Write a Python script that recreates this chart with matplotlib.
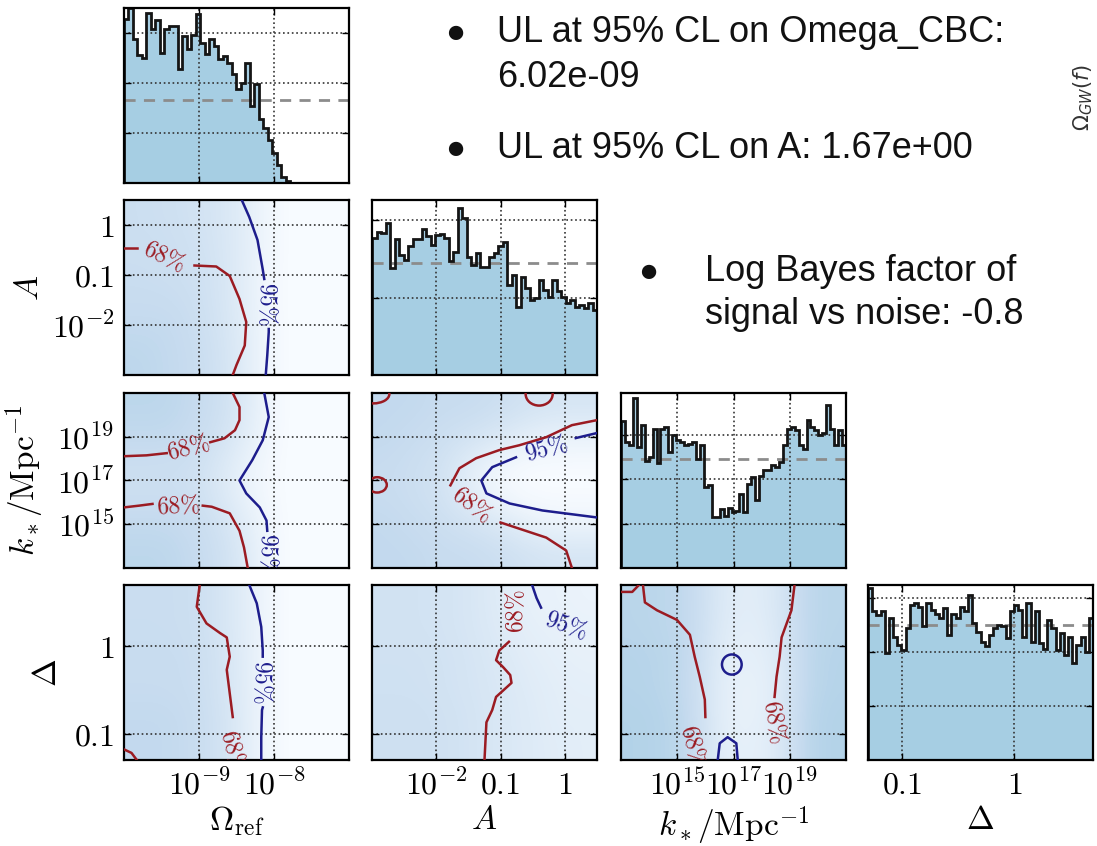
import numpy as np
import matplotlib
matplotlib.use('Agg')
import matplotlib.pyplot as plt
from matplotlib.patches import Ellipse

plt.rcParams['mathtext.fontset'] = 'cm'
plt.rcParams['font.family'] = ['DejaVu Serif']

# ---------------- data (log10 units) ----------------
param_names = ['omega', 'A', 'k', 'delta']
axis_labels = [r'$\Omega_{\mathrm{ref}}$', r'$A$', r'$k_*/\mathrm{Mpc}^{-1}$', r'$\Delta$']
ranges = {'omega': (-10.0, -7.0), 'A': (-3.0, 0.5), 'k': (13.0, 21.0),
          'delta': (np.log10(0.05), np.log10(5.0))}
tick_pos = {'omega': [-9, -8], 'A': [-2, -1, 0], 'k': [15, 17, 19], 'delta': [-1, 0]}
tick_lab = {'omega': [r'$10^{-9}$', r'$10^{-8}$'],
            'A': [r'$10^{-2}$', r'$0.1$', r'$1$'],
            'k': [r'$10^{15}$', r'$10^{17}$', r'$10^{19}$'],
            'delta': [r'$0.1$', r'$1$']}

# 1D marginal histograms (relative heights)
hist_omega = [3.27, 3.5, 2.87, 2.55, 2.5, 3.4, 3.07, 3.25, 2.6, 3.07, 3.13, 3.13, 2.27, 2.93,
              2.67, 2.95, 3.37, 2.8, 2.57, 2.87, 2.73, 2.47, 2.53, 2.4, 2.17, 1.87, 2.0, 2.4,
              1.53, 1.97, 1.27, 1.1, 0.85, 0.6, 0.35, 0.12, 0.04,
              0, 0, 0, 0, 0, 0, 0, 0, 0, 0, 0, 0, 0]
hist_A = [1.77, 1.85, 1.83, 1.96, 1.38, 1.75, 1.55, 1.49, 1.66, 1.75, 1.75, 1.88, 1.79, 1.68,
          1.81, 1.82, 1.77, 1.47, 1.59, 2.16, 2.03, 1.53, 1.42, 1.57, 1.40, 1.40, 1.53, 1.57,
          1.66, 1.72, 1.16, 1.29, 0.88, 1.27, 1.12, 0.97, 0.99, 1.23, 1.10, 1.01, 1.23, 1.08,
          1.01, 0.93, 0.97, 0.88, 0.90, 0.86, 0.93, 0.84]
hist_k = [3.30, 2.84, 2.77, 3.83, 2.73, 3.22, 2.42, 2.50, 3.14, 2.36, 3.14, 3.18, 2.61, 2.99,
          2.88, 2.84, 2.77, 2.80, 2.84, 2.46, 2.77, 1.82, 1.86, 1.14, 1.14, 1.33, 1.17, 1.36,
          1.25, 1.29, 1.67, 1.25, 1.89, 2.05, 1.52, 2.08, 2.20, 2.20, 2.31, 2.27, 2.39, 2.77,
          3.14, 3.18, 3.11, 2.77, 2.69, 3.33, 3.18, 3.11, 2.99, 3.03, 3.67, 3.14, 2.77, 3.11, 2.77]
hist_delta = [3.19, 2.76, 2.69, 2.76, 1.98, 2.63, 2.29, 2.14, 2.04, 2.45,
              2.88, 2.91, 2.85, 2.48, 2.91, 2.79, 2.72, 2.63, 2.82, 2.32,
              2.72, 2.63, 2.85, 2.76, 3.07, 2.54, 2.38, 2.20, 2.11, 2.32,
              2.45, 2.51, 2.48, 2.26, 2.76, 2.88, 2.79, 2.29, 2.91, 2.20,
              2.76, 2.17, 2.07, 2.60, 2.45, 2.04, 2.35, 1.95, 2.29, 1.80,
              2.14, 2.29, 2.01, 2.63]
hists = {'omega': hist_omega, 'A': hist_A, 'k': hist_k, 'delta': hist_delta}
hist_top = {'omega': 3.5, 'A': 2.26, 'k': 3.94, 'delta': 3.25}
hist_ref_level = {'omega': 1.66, 'A': 1.44, 'k': 2.45, 'delta': 2.51}
hist_yticks = {'omega': [1, 2, 3], 'A': [1, 2], 'k': [1, 2, 3], 'delta': [1, 2, 3]}

# coarse 2D posterior density (rows bottom->top, cols left->right)
dens_A_omega = [[0.28, 0.26, 0.24, 0.19, 0.09, 0.0, 0, 0],
                [0.26, 0.26, 0.23, 0.18, 0.09, 0.0, 0, 0],
                [0.24, 0.24, 0.22, 0.17, 0.08, 0.0, 0, 0],
                [0.23, 0.22, 0.21, 0.17, 0.08, 0.0, 0, 0],
                [0.22, 0.22, 0.20, 0.16, 0.09, 0.0, 0, 0],
                [0.22, 0.21, 0.19, 0.16, 0.09, 0.0, 0, 0]]
dens_k_omega = [[0.28, 0.28, 0.25, 0.21, 0.11, 0.0, 0, 0],
                [0.26, 0.26, 0.24, 0.19, 0.09, 0.0, 0, 0],
                [0.22, 0.22, 0.21, 0.14, 0.05, 0.0, 0, 0],
                [0.22, 0.22, 0.21, 0.14, 0.05, 0.0, 0, 0],
                [0.26, 0.26, 0.24, 0.19, 0.09, 0.0, 0, 0],
                [0.28, 0.28, 0.25, 0.21, 0.11, 0.0, 0, 0]]
dens_delta_omega = [[0.26, 0.26, 0.24, 0.19, 0.09, 0.0, 0, 0],
                    [0.26, 0.26, 0.24, 0.19, 0.09, 0.0, 0, 0],
                    [0.24, 0.24, 0.23, 0.18, 0.09, 0.0, 0, 0],
                    [0.24, 0.24, 0.23, 0.18, 0.09, 0.0, 0, 0],
                    [0.23, 0.23, 0.22, 0.17, 0.09, 0.0, 0, 0],
                    [0.23, 0.23, 0.22, 0.17, 0.09, 0.0, 0, 0]]
dens_k_A = [[0.26, 0.26, 0.24, 0.24, 0.22, 0.19, 0.17, 0.17],
            [0.26, 0.24, 0.22, 0.19, 0.15, 0.09, 0.05, 0.05],
            [0.24, 0.22, 0.19, 0.10, 0.03, 0.0, 0.0, 0.0],
            [0.24, 0.22, 0.19, 0.10, 0.03, 0.0, 0.0, 0.0],
            [0.26, 0.24, 0.22, 0.19, 0.15, 0.10, 0.07, 0.07],
            [0.26, 0.26, 0.24, 0.24, 0.22, 0.19, 0.17, 0.17]]
dens_delta_A = [[0.21, 0.21, 0.20, 0.18, 0.15, 0.13, 0.11, 0.10],
                [0.21, 0.21, 0.20, 0.18, 0.15, 0.13, 0.10, 0.10],
                [0.20, 0.20, 0.19, 0.17, 0.15, 0.12, 0.10, 0.09],
                [0.20, 0.20, 0.19, 0.17, 0.14, 0.11, 0.09, 0.08],
                [0.19, 0.19, 0.18, 0.16, 0.13, 0.09, 0.08, 0.07],
                [0.19, 0.19, 0.18, 0.16, 0.12, 0.08, 0.07, 0.06]]
dens_delta_k = [[0.31, 0.30, 0.26, 0.11, 0.08, 0.12, 0.28, 0.31],
                [0.31, 0.30, 0.26, 0.10, 0.07, 0.11, 0.28, 0.31],
                [0.30, 0.29, 0.25, 0.10, 0.07, 0.10, 0.27, 0.30],
                [0.30, 0.29, 0.26, 0.11, 0.08, 0.11, 0.27, 0.30],
                [0.29, 0.28, 0.26, 0.13, 0.09, 0.13, 0.27, 0.29],
                [0.29, 0.28, 0.26, 0.14, 0.10, 0.14, 0.27, 0.29]]
densities = {(1, 0): dens_A_omega, (2, 0): dens_k_omega, (3, 0): dens_delta_omega,
             (2, 1): dens_k_A, (3, 1): dens_delta_A, (3, 2): dens_delta_k}

# credible contours (x, y) in log10 units, split where labels sit
c68_A_omega = [[(-10.0, -0.47), (-9.83, -0.47)],
               [(-9.06, -0.81), (-8.77, -0.83), (-8.59, -1.02), (-8.46, -1.48), (-8.37, -1.94),
                (-8.39, -2.41), (-8.50, -2.80), (-8.55, -3.0)]]
c95_A_omega = [[(-8.43, 0.5), (-8.33, 0.16), (-8.22, -0.30), (-8.15, -0.89), (-8.13, -1.08)],
               [(-8.07, -2.08), (-8.07, -2.14), (-8.09, -2.61), (-8.11, -3.0)]]
c68_k_omega = [[(-10.0, 18.11), (-9.7, 18.15), (-9.43, 18.25)],
               [(-8.85, 18.75), (-8.66, 18.93), (-8.52, 19.30), (-8.46, 19.76), (-8.46, 20.36),
                (-8.55, 21.0)],
               [(-10.0, 15.77), (-9.8, 15.85), (-9.62, 15.93)],
               [(-8.95, 15.85), (-8.83, 15.80), (-8.59, 15.50), (-8.46, 14.70), (-8.40, 13.94),
                (-8.35, 13.0)]]
c95_k_omega = [[(-8.13, 21.0), (-8.07, 19.9), (-8.15, 18.84), (-8.29, 17.93), (-8.46, 17.0),
                (-8.37, 16.41), (-8.19, 15.77), (-8.10, 15.17), (-8.09, 14.70)]]
c68_delta_omega = [[(-8.99, 0.70), (-9.03, 0.45), (-8.90, 0.26), (-8.72, 0.15), (-8.63, 0.10),
                    (-8.59, -0.12), (-8.63, -0.27), (-8.59, -0.54), (-8.55, -0.81)],
                   [(-10.0, -1.18), (-9.9, -1.22), (-9.83, -1.30)]]
c95_delta_omega = [[(-8.33, 0.70), (-8.23, 0.49), (-8.17, 0.22), (-8.15, -0.05), (-8.15, -0.12)],
                   [(-8.15, -0.70), (-8.16, -0.73), (-8.17, -1.04), (-8.17, -1.30)]]
c68_k_A = [[(0.5, 19.76), (0.11, 19.53), (-0.29, 18.98), (-0.71, 18.61), (-1.02, 18.39),
            (-1.38, 18.02), (-1.64, 17.56), (-1.78, 16.78)],
           [(-1.0, 15.08), (-0.29, 14.39), (0.02, 13.80), (0.11, 13.0)]]
c95_k_A = [[(0.5, 19.17), (0.17, 18.94)],
           [(-0.76, 18.06), (-1.13, 17.61), (-1.30, 17.0), (-1.22, 16.41), (-0.86, 15.95),
            (-0.35, 15.63), (0.5, 15.31)]]
loops68_k_A = [((-2.98, 20.95), 0.5, 0.85), ((-2.92, 16.8), 0.3, 0.7), ((-0.4, 20.95), 0.42, 1.05)]
c68_delta_A = [[(-1.25, -1.30), (-1.22, -0.87), (-1.13, -0.73), (-1.07, -0.58), (-0.95, -0.50),
                (-0.83, -0.42), (-0.85, -0.33), (-0.96, -0.24), (-1.07, -0.16), (-1.02, -0.05),
                (-0.87, 0.05)]]
c95_delta_A = [[(-0.51, 0.70), (-0.44, 0.55), (-0.37, 0.44)]]
c68_delta_k = [[(13.0, 0.62), (13.4, 0.62), (13.64, 0.70)],
               [(13.78, 0.70), (13.85, 0.50), (14.28, 0.41), (14.99, 0.30), (15.45, 0.13),
                (15.62, -0.12), (15.80, -0.35), (15.98, -0.61), (16.0, -0.81)],
               [(19.17, 0.70), (19.06, 0.41), (18.71, 0.10), (18.64, -0.12), (18.53, -0.35),
                (18.46, -0.58)]]
c95_delta_k = [[(16.44, -1.30), (16.51, -1.11), (16.79, -1.04), (17.10, -1.11), (17.15, -1.30)]]
loops95_delta_k = [((16.94, -0.21), 0.7, 0.23)]

contours68 = {(1, 0): c68_A_omega, (2, 0): c68_k_omega, (3, 0): c68_delta_omega,
              (2, 1): c68_k_A, (3, 1): c68_delta_A, (3, 2): c68_delta_k}
contours95 = {(1, 0): c95_A_omega, (2, 0): c95_k_omega, (3, 0): c95_delta_omega,
              (2, 1): c95_k_A, (3, 1): c95_delta_A, (3, 2): c95_delta_k}
# contour labels: (x, y, rotation)
labels68 = {(1, 0): [(-9.46, -0.64, -25)],
            (2, 0): [(-9.14, 18.47, 15), (-9.28, 15.84, 3)],
            (3, 0): [(-8.55, -1.2, -75)],
            (2, 1): [(-1.45, 15.9, -37)],
            (3, 1): [(-0.75, 0.40, 90)],
            (3, 2): [(15.55, -1.15, -75), (18.45, -0.87, -80)]}
labels95 = {(1, 0): [(-8.10, -1.58, -90)],
            (2, 0): [(-8.08, 13.6, -90)],
            (3, 0): [(-8.16, -0.41, -90)],
            (2, 1): [(-0.29, 18.45, 15)],
            (3, 1): [(0.02, 0.24, -20)],
            (3, 2): []}

# text summary
summary_lines = ['UL at 95% CL on Omega_CBC:', '6.02e-09', 'UL at 95% CL on A: 1.67e+00',
                 'Log Bayes factor of', 'signal vs noise: -0.8']

# ---------------- styling ----------------
W, H = 1097, 846
fig = plt.figure(figsize=(W / 100, H / 100), dpi=100)
col_left = [124, 372, 621, 868]
row_top = [8, 200, 393, 585]
pw, ph = 225, 175
RED = '#9b1b22'
BLUE = '#1d1d8c'
FILL = '#a6cee3'
TICKFS = 23

def panel(r, c):
    return fig.add_axes([col_left[c] / W, 1 - (row_top[r] + ph) / H, pw / W, ph / H])

def style(ax):
    ax.tick_params(direction='in', length=5, width=1, top=True, right=True,
                   labelsize=TICKFS, pad=7)
    for s in ax.spines.values():
        s.set_linewidth(1.6)
    ax.grid(True, ls=':', color='#333333', lw=1.2)

ylabel_x = {1: -0.35, 2: -0.345, 3: -0.27}

for i, pname in enumerate(param_names):
    for j in range(i + 1):
        ax = panel(i, j)
        xname = param_names[j]
        x0, x1 = ranges[xname]
        if i == j:
            vals = hists[pname]
            edges = np.linspace(x0, x1, len(vals) + 1)
            ax.stairs(vals, edges, fill=True, color=FILL, lw=0, zorder=1)
            ax.axhline(hist_ref_level[pname], color='#8c8c8c', lw=2, ls=(0, (4, 3)), zorder=1.8)
            ax.stairs(vals, edges, color='#151515', lw=2, zorder=2)
            ax.set_ylim(0, hist_top[pname])
            ax.set_yticks(hist_yticks[pname])
            ax.set_yticklabels([])
        else:
            y0, y1 = ranges[pname]
            dens = np.array(densities[(i, j)])
            ax.imshow(dens, extent=(x0, x1, y0, y1), origin='lower', aspect='auto',
                      cmap='Blues', vmin=0, vmax=1, interpolation='bicubic', zorder=0)
            for seg in contours68[(i, j)]:
                a = np.array(seg)
                ax.plot(a[:, 0], a[:, 1], color=RED, lw=1.8, zorder=3)
            for seg in contours95[(i, j)]:
                a = np.array(seg)
                ax.plot(a[:, 0], a[:, 1], color=BLUE, lw=1.8, zorder=3)
            if (i, j) == (2, 1):
                for (cx, cy), w, h in loops68_k_A:
                    ax.add_patch(Ellipse((cx, cy), w, h, fill=False, ec=RED, lw=1.8, zorder=3))
            if (i, j) == (3, 2):
                for (cx, cy), w, h in loops95_delta_k:
                    ax.add_patch(Ellipse((cx, cy), w, h, fill=False, ec=BLUE, lw=1.8, zorder=3))
            for (tx, ty, rot) in labels68[(i, j)]:
                ax.text(tx, ty, r'$68\%$', color=RED, fontsize=17, rotation=rot,
                        ha='center', va='center', rotation_mode='anchor', clip_on=True, zorder=4)
            for (tx, ty, rot) in labels95[(i, j)]:
                ax.text(tx, ty, r'$95\%$', color=BLUE, fontsize=17, rotation=rot,
                        ha='center', va='center', rotation_mode='anchor', clip_on=True, zorder=4)
            ax.set_ylim(y0, y1)
            ax.set_yticks(tick_pos[pname])
            if j == 0:
                ax.set_yticklabels(tick_lab[pname])
            else:
                ax.set_yticklabels([])
        ax.set_xlim(x0, x1)
        ax.set_xticks(tick_pos[xname])
        if i == 3:
            ax.set_xticklabels(tick_lab[xname])
            ax.set_xlabel(axis_labels[j], fontsize=24, labelpad=2)
        else:
            ax.set_xticklabels([])
        if j == 0 and i > 0:
            ax.set_ylabel(axis_labels[i], fontsize=24)
            ax.yaxis.set_label_coords(ylabel_x[i], 0.5)
        style(ax)

# ---------------- summary text ----------------
SANS = ['Liberation Sans', 'DejaVu Sans']
def ftext(x, y, s, size=26):
    fig.text(x / W, 1 - y / H, s, va='baseline', ha='left', family=SANS, fontsize=size,
             color='#111111')

ftext(445, 42, '\u25cf', 24)
ftext(497, 42, summary_lines[0])
ftext(497, 87, summary_lines[1])
ftext(445, 158, '\u25cf', 24)
ftext(497, 158, summary_lines[2])
ftext(638, 281, '\u25cf', 24)
ftext(705, 281, summary_lines[3])
ftext(705, 324, summary_lines[4])

fig.text(1083 / W, 1 - 98 / H, r'$\Omega_{GW}(f)$', rotation=90, ha='center', va='center',
         fontsize=15, color='#333333', math_fontfamily='dejavusans')

fig.savefig('out.png', dpi=100)
